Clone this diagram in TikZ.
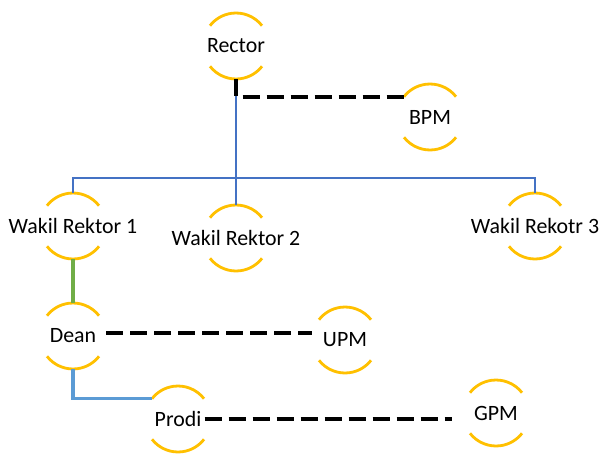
\documentclass[tikz,border=0pt]{standalone}
\usepackage{fontspec}
\setmainfont{Carlito}
\usepackage{xcolor}
\usepackage{tikz}
\definecolor{orggold}{HTML}{FFC000}
\definecolor{orgblue}{HTML}{4472C4}
\definecolor{orggreen}{HTML}{70AD47}
\definecolor{orgpale}{HTML}{5B9BD5}

\begin{document}
\begin{tikzpicture}[x=0.75pt,y=0.75pt,
	unit/.style={minimum size=49.5pt,inner sep=0pt,font=\fontsize{16.4}{18}\selectfont},
	unitarc/.style={orggold,line width=2.1pt},
	bluelink/.style={orgblue,line width=2pt},
	greenlink/.style={orggreen,line width=2.4pt},
	palelink/.style={orgpale,line width=2.4pt},
	dashlink/.style={black,line width=3.2pt,dash pattern=on 12.75pt off 5.25pt}]
\useasboundingbox (0,0) rectangle (599,455);
	\node[unit] at (236,409) (rector) {Rector};
	\node[unit] at (430,338) (bpm) {BPM};
	\node[unit] at (73,229) (wr1) {Wakil Rektor 1};
	\node[unit] at (236,217) (wr2) {Wakil Rektor 2};
	\node[unit] at (535,229) (wr3) {Wakil Rekotr 3};
	\node[unit] at (73,119) (dean) {Dean};
	\node[unit] at (345,115) (upm) {UPM};
	\node[unit] at (178,36) (prodi) {Prodi};
	\node[unit] at (496,42) (gpm) {GPM};
	% half circles above and below each unit
	\foreach \n in {rector,bpm,wr1,wr2,wr3,dean,upm,prodi,gpm} {
		\draw[unitarc] ([shift={(38:24.75pt)}]\n.center) arc (38:142:24.75pt);
		\draw[unitarc] ([shift={(218:24.75pt)}]\n.center) arc (218:322:24.75pt);
	}
	\coordinate (hub) at (236,277);
	\draw [bluelink] (rector.south) -- (hub);
	\draw [bluelink] (wr1.north) |- (hub) -| (wr3.north);
	\draw [bluelink] (hub) -- (wr2.north);
	\draw [greenlink] (wr1.south) -- (dean.north);
	\draw [palelink] (dean.south) |- ([shift={(142:24.75pt)}]prodi.center);
	\draw [dashlink] (rector.south) |- ([shift={(142:24.75pt)}]bpm.center);
	\draw [dashlink] ([yshift=2pt]dean.east) -- ([yshift=2pt]dean.east -| upm.west);
	\draw [dashlink] ([xshift=-5pt]prodi.east) -- ([xshift=-8pt]prodi.east -| gpm.west);
\end{tikzpicture}
\end{document}
